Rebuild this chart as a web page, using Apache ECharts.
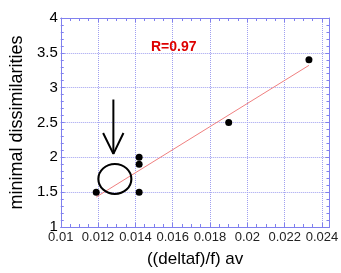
<!DOCTYPE html>
<html>
<head>
<meta charset="utf-8">
<script src="https://cdn.jsdelivr.net/npm/echarts@6/dist/echarts.min.js"></script>
<style>
  html, body { margin: 0; padding: 0; background: #fff; }
  #chart { width: 341px; height: 273px; }
</style>
</head>
<body>
<div id="chart"></div>
<script>
// measured points
const xValues = [0.0119, 0.0142, 0.0142, 0.0142, 0.019, 0.0233];
const yValues = [1.5, 1.5, 1.9, 2.0, 2.5, 3.4];
// fitted line ends
const fitX = [0.0119, 0.0233];
const fitY = [1.43, 3.32];
// annotation: circle and arrow
const circleAt = [0.0129, 1.69];
const arrowShaft = [[0.01282, 2.83], [0.01282, 2.05]];
const arrowHead = [[0.01227, 2.35], [0.01282, 2.05], [0.01336, 2.35]];
const rLabel = "R=0.97";

const axisColor = "#8080ee";
const gridColor = "#a0a0f0";
const font = "Liberation Sans";

let myChart = echarts.init(document.getElementById("chart"));

const xBase = {
  min: 0.01,
  max: 0.0244,
  interval: 0.002,
  axisLine: { lineStyle: { color: axisColor } },
  axisTick: { inside: true, length: 4, lineStyle: { color: axisColor } },
  minorTick: { show: true, splitNumber: 4, length: 3, lineStyle: { color: axisColor } },
};
const yBase = {
  min: 1,
  max: 4,
  interval: 0.5,
  axisLine: { lineStyle: { color: axisColor } },
  axisTick: { inside: true, length: 4, lineStyle: { color: axisColor } },
  minorTick: { show: true, splitNumber: 5, length: 3, lineStyle: { color: axisColor } },
};

myChart.setOption({
  backgroundColor: "#fff",
  animation: false,
  title: {
    text: rLabel,
    left: 146,
    top: 35,
    textStyle: { color: "#dd0000", fontWeight: "bold", fontSize: 14, fontFamily: font },
  },
  grid: { left: 51, right: 7, top: 18, bottom: 34 },
  xAxis: [
    Object.assign({}, xBase, {
      type: "value",
      position: "bottom",
      name: "((deltaf)/f) av",
      nameLocation: "middle",
      nameGap: 24,
      nameTextStyle: { color: "#000", fontSize: 17, fontFamily: font },
      axisLabel: { color: "#222", fontSize: 13, margin: 4, fontFamily: font, showMaxLabel: false },
      splitLine: { show: true, lineStyle: { color: gridColor, type: [1, 1] } },
    }),
    Object.assign({}, xBase, {
      type: "value",
      position: "top",
      axisLabel: { show: false },
      splitLine: { show: false },
    }),
  ],
  yAxis: [
    Object.assign({}, yBase, {
      type: "value",
      position: "left",
      name: "minimal dissimilarities",
      nameLocation: "middle",
      nameGap: 27,
      nameTextStyle: { color: "#000", fontSize: 18, fontFamily: font },
      axisLabel: { color: "#000", fontSize: 15, margin: 3, fontFamily: font },
      splitLine: { show: true, lineStyle: { color: gridColor, type: [1, 1] } },
    }),
    Object.assign({}, yBase, {
      type: "value",
      position: "right",
      axisLabel: { show: false },
      splitLine: { show: false },
    }),
  ],
  series: [
    {
      type: "line",
      data: fitX.map((x, i) => [x, fitY[i]]),
      symbol: "none",
      lineStyle: { color: "#f08080", width: 1 },
      z: 2,
    },
    {
      type: "scatter",
      data: xValues.map((x, i) => [x, yValues[i]]),
      symbolSize: 7,
      itemStyle: { color: "#000", opacity: 1 },
      z: 3,
    },
    {
      type: "scatter",
      data: [circleAt],
      symbolSize: [33, 30],
      itemStyle: { color: "rgba(0,0,0,0)", borderColor: "#000", borderWidth: 2, opacity: 1 },
      z: 3,
    },
    {
      type: "line",
      data: arrowShaft,
      symbol: "none",
      lineStyle: { color: "#000", width: 2 },
      z: 3,
    },
    {
      type: "line",
      data: arrowHead,
      symbol: "none",
      lineStyle: { color: "#000", width: 2 },
      z: 3,
    },
  ],
});
window.onresize = function() {
  myChart.resize();
};
</script>
</body>
</html>
